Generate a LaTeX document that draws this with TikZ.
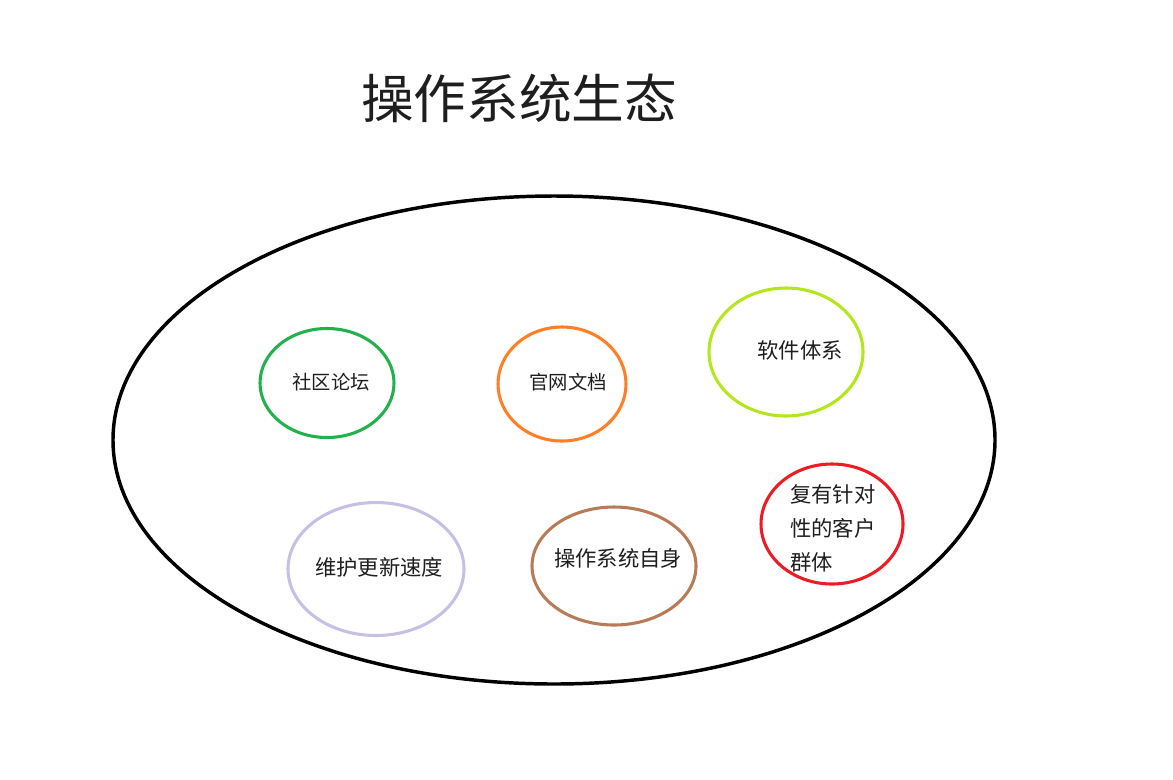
\documentclass[tikz,border=0pt]{standalone}
\usepackage{fontspec}
\setmainfont{Noto Sans CJK SC}
\usetikzlibrary{shapes.geometric}
\definecolor{grass}{RGB}{34,177,76}
\definecolor{tangerine}{RGB}{255,127,39}
\definecolor{lime}{RGB}{181,230,29}
\definecolor{scarlet}{RGB}{237,28,36}
\definecolor{lavender}{RGB}{200,191,231}
\definecolor{clay}{RGB}{185,122,87}
\definecolor{ink}{RGB}{30,30,30}
\tikzset{
  ring/.style={ellipse,draw=#1,line width=2.3pt,inner sep=0pt},
  ring/.default=black,
  tag/.style={font=\fontsize{#1}{#1}\selectfont,text=ink,inner sep=0pt},
  tag/.default=16pt,
}
\begin{document}
\begin{tikzpicture}[x=0.75pt,y=-0.75pt]
  \useasboundingbox (0,0) rectangle (1173,779);
  \node[tag=39.5pt] (title) at (519,98) {操作系统生态};
  \node[ring,line width=2.6pt,minimum width=882*0.75pt,minimum height=488*0.75pt] (eco) at (554,440) {};
  % small ecosystems
  \foreach \n/\x/\y/\w/\h/\c in {forum/327/383/134/109/grass,docs/562/384/128/114/tangerine,
    soft/786/352/154/128/lime,users/832/524/142/120/scarlet,
    upd/376/569/176/133/lavender,core/614/566/164/118/clay}{
    \node[ring=\c,minimum width=\w*0.75pt,minimum height=\h*0.75pt] (\n) at (\x,\y) {};
  }
  \node[tag=14.5pt] (forumt) at (331,382) {社区论坛};
  \node[tag=14.5pt] (docst) at (568,382) {官网文档};
  \node[tag] (softt) at (800,350) {软件体系};
  \node[tag,align=left,anchor=north west,font=\fontsize{16pt}{25.5pt}\selectfont] (userst) at (790,484) {复有针对\\性的客户\\群体};
  \node[tag] (updt) at (379,567) {维护更新速度};
  \node[tag] (coret) at (618,558) {操作系统自身};
\end{tikzpicture}
\end{document}
